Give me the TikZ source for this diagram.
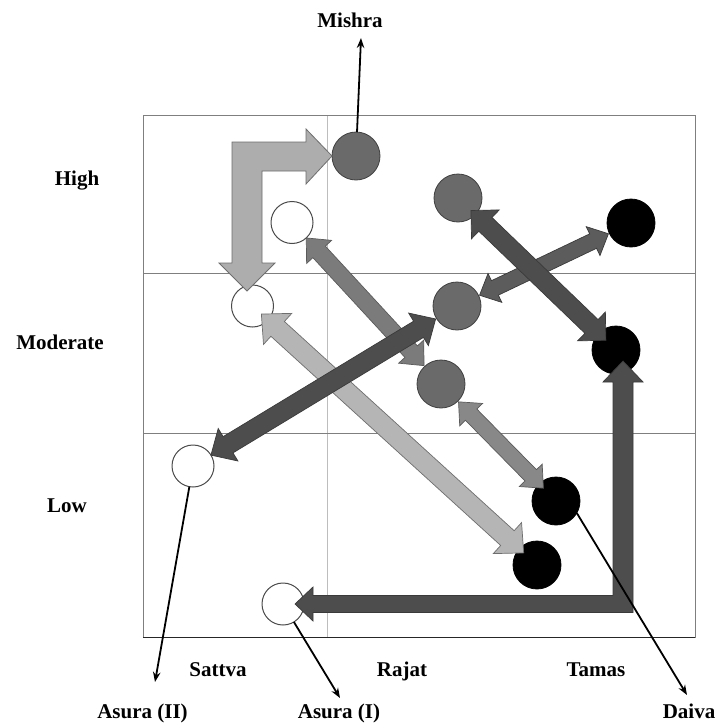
\documentclass[tikz,border=0pt]{standalone}
\usepackage{fontspec}
\setmainfont{Liberation Serif}
\usetikzlibrary{calc,arrows.meta}
\definecolor{gridc}{HTML}{7F7F7F}
\definecolor{gridlight}{HTML}{BDBDBD}
\definecolor{dotgrey}{HTML}{6A6A6A}
\definecolor{dotedge}{HTML}{3F3F3F}
\definecolor{whiteedge}{HTML}{4A4A4A}
\definecolor{arrdark}{HTML}{4D4D4D}
\definecolor{arrdarkb}{HTML}{5C5C5C}
\definecolor{arrmid}{HTML}{7B7B7B}
\definecolor{arrmidb}{HTML}{888888}
\definecolor{arrlight}{HTML}{B5B5B5}
\definecolor{arrlightA}{HTML}{ADADAD}
\definecolor{edgedark}{HTML}{3A3A3A}
\definecolor{edgemid}{HTML}{5A5A5A}
\definecolor{edgelight}{HTML}{6E6E6E}
% #1 style, #2 node A, #3 shortening at A, #4 node B, #5 shortening at B,
% #6 shaft half width, #7 head half width, #8 head length
\newcommand{\blockarrow}[8]{%
  \path ($(#2)!#3!(#4)$) coordinate (ba) ($(#4)!#5!(#2)$) coordinate (bb);
  \path ($(ba)!#8!(bb)$) coordinate (ha) ($(bb)!#8!(ba)$) coordinate (hb);
  \filldraw[#1] (ba) -- ($(ha)!#7!90:(bb)$) -- ($(ha)!#6!90:(bb)$)
    -- ($(hb)!#6!-90:(ba)$) -- ($(hb)!#7!-90:(ba)$) -- (bb)
    -- ($(hb)!#7!90:(ba)$) -- ($(hb)!#6!90:(ba)$)
    -- ($(ha)!#6!-90:(bb)$) -- ($(ha)!#7!-90:(bb)$) -- cycle;}
\begin{document}
\begin{tikzpicture}[x=1pt,y=-1pt,
  gridline/.style={draw=gridc,line width=1pt},
  innerv/.style={draw=gridlight,line width=1pt},
  baseline/.style={draw=black!85,line width=1.6pt},
  greydot/.style={circle,fill=dotgrey,draw=dotedge,line width=0.8pt,minimum size=48pt,inner sep=0pt,outer sep=0pt},
  blackdot/.style={circle,fill=black,draw=black,line width=0.8pt,minimum size=48pt,inner sep=0pt,outer sep=0pt},
  whitedot/.style={circle,fill=white,draw=whiteedge,line width=1pt,minimum size=42pt,inner sep=0pt,outer sep=0pt},
  lbl/.style={font=\fontsize{21}{24}\selectfont\bfseries,anchor=base,inner sep=0pt},
  thinarrow/.style={draw=black,line width=1.8pt,-{Stealth[length=10pt,width=7.5pt]}},
  darkarrow/.style={fill=arrdark,draw=edgedark,line width=0.7pt,line join=miter},
  darkarrowb/.style={fill=arrdarkb,draw=edgedark,line width=0.7pt,line join=miter},
  midarrow/.style={fill=arrmid,draw=edgemid,line width=0.7pt,line join=miter},
  midarrowb/.style={fill=arrmidb,draw=edgemid,line width=0.7pt,line join=miter},
  lightarrow/.style={fill=arrlight,draw=edgelight,line width=0.7pt,line join=miter},
  lightarrowA/.style={fill=arrlightA,draw=edgelight,line width=0.8pt,line join=miter}]
\useasboundingbox (0,0) rectangle (716,725);
\fill[white] (0,0) rectangle (716,725);

% grid
\draw[innerv] (327,115.5) -- (327,637.5);
\draw[gridline] (143,273.5) -- (695,273.5);
\draw[gridline] (143,433) -- (695,433);
\draw[gridline] (143,637.5) -- (143,115.5) -- (695,115.5) -- (695,637.5);
\draw[baseline] (143,637.5) -- (695,637.5);

% labels
\node[lbl] (high) at (77,185) {High};
\node[lbl] (moderate) at (60,349) {Moderate};
\node[lbl] (low) at (67,512) {Low};
\node[lbl] (sattva) at (218,676) {Sattva};
\node[lbl] (rajat) at (402,676) {Rajat};
\node[lbl] (tamas) at (596,676) {Tamas};
\node[lbl] (mishra) at (350,27.7) {Mishra};
\node[lbl] (asura2) at (142.5,718.5) {Asura (II)};
\node[lbl] (asura1) at (339,718.5) {Asura (I)};
\node[lbl] (daiva) at (689,718.5) {Daiva};

% circles
\node[greydot] (c1) at (356,156) {};
\node[greydot] (c2) at (458,198) {};
\node[blackdot] (c3) at (631,223) {};
\node[whitedot] (c4) at (292,222.5) {};
\node[whitedot] (c5) at (252.5,306) {};
\node[greydot] (c6) at (457,306) {};
\node[blackdot] (c7) at (616,350) {};
\node[greydot] (c8) at (441,384) {};
\node[whitedot] (c9) at (193,466) {};
\node[blackdot] (c10) at (556,501) {};
\node[blackdot] (c11) at (537,565) {};
\node[whitedot] (c12) at (283,604) {};

% elbow arrow to Mishra
\filldraw[lightarrowA] (232,142) -- (306,142) -- (306,129) -- (c1.west) -- (306,184)
  -- (306,171) -- (262,171) -- (262,263) -- (275,263) -- (247,291) -- (219,263)
  -- (232,263) -- cycle;

% diagonal double arrows
\blockarrow{midarrow}{c4}{21pt}{c8}{25pt}{8.5pt}{17pt}{19pt}
\blockarrow{lightarrow}{c5}{12pt}{c11}{18pt}{10pt}{21pt}{22pt}
\blockarrow{midarrowb}{c8}{25pt}{c10}{18pt}{8pt}{16pt}{18pt}
\blockarrow{darkarrowb}{c3}{25pt}{c6}{25pt}{8pt}{16pt}{17pt}
\blockarrow{darkarrow}{c2}{18pt}{c7}{14pt}{9.5pt}{20pt}{20pt}
\blockarrow{darkarrow}{c6}{25pt}{c9}{21pt}{9.5pt}{19pt}{20pt}

% elbow double arrow Asura (I) - Tamas
\filldraw[darkarrow] (295,604) -- (313,587) -- (313,595.5) -- (613,595.5) -- (613,382)
  -- (603,382) -- (623,361) -- (643,382) -- (633,382) -- (633,612.5) -- (313,612.5)
  -- (313,621) -- cycle;

% label pointers
\coordinate (tipM) at (361,38);
\coordinate (tipA2) at (155,682);
\coordinate (tipA1) at (340,698);
\coordinate (tipD) at (687,695);
\draw[thinarrow] (c1) -- (tipM);
\draw[thinarrow] (c9) -- (tipA2);
\draw[thinarrow] (c12) -- (tipA1);
\draw[thinarrow] (c10.-30) -- (tipD);
\end{tikzpicture}
\end{document}
